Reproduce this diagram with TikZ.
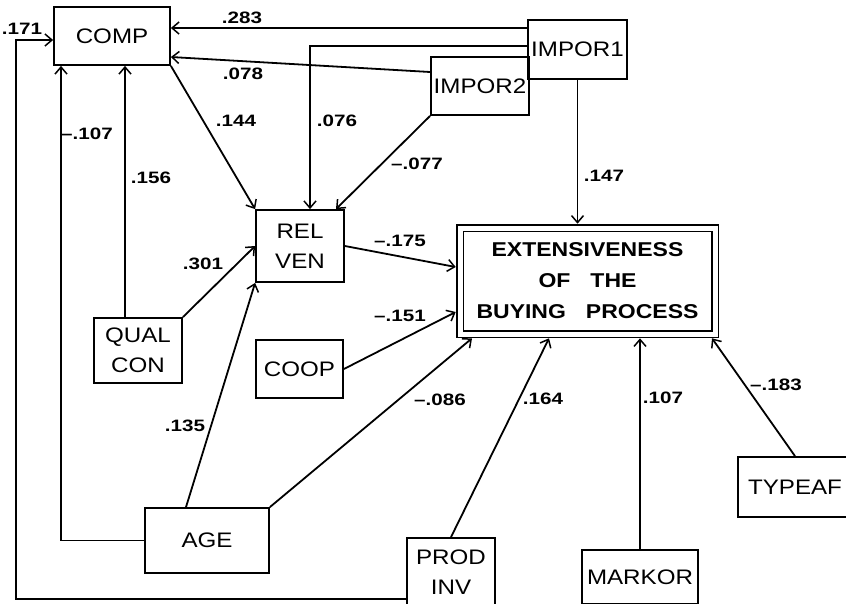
\documentclass[tikz,border=0pt]{standalone}
\usetikzlibrary{arrows.meta}
\usepackage{fontspec}
\setmainfont{Liberation Sans}
\newfontfamily\boxfont[FakeStretch=1.15]{Liberation Sans}
\newfontfamily\coeffont[FakeStretch=1.25]{Liberation Sans}

\begin{document}
\begin{tikzpicture}[
    x=1pt, y=-1pt,
    myarrow/.style={line width=1.8pt, -{Straight Barb[length=7pt, width=12pt, line width=1.5pt]}},
    varbox/.style={draw, line width=1.8pt, rectangle, inner sep=0pt, align=center,
        font={\boxfont\fontsize{21}{30}\selectfont}},
    coef/.style={inner sep=0pt, font={\coeffont\bfseries\fontsize{16.5}{16.5}\selectfont}}
]

    \path[use as bounding box, fill=white] (0,0) rectangle (846,603);
    \clip (0,0) rectangle (846,603);

    % ==========================================
    % 1. VARIABLES (boxes)
    % ==========================================

    \node[varbox, minimum width=116pt, minimum height=58pt] (comp) at (112, 36) {COMP};

    \node[varbox, minimum width=99pt, minimum height=59pt] (impor1) at (577.5, 49.5) {IMPOR1};

    \node[varbox, minimum width=98pt, minimum height=58pt] (impor2) at (480, 86) {IMPOR2};

    \node[varbox, minimum width=88pt, minimum height=72pt] (relven) at (300, 246) {REL\\VEN};

    \node[varbox, minimum width=88pt, minimum height=65pt] (qualcon) at (138, 350.5) {QUAL\\CON};

    \node[varbox, minimum width=87pt, minimum height=58pt] (coop) at (299.5, 369) {COOP};

    \node[varbox, minimum width=124pt, minimum height=65pt] (age) at (207, 540.5) {AGE};

    \node[varbox, minimum width=88pt, minimum height=68pt] (prodinv) at (451, 572) {PROD\\INV};

    \node[varbox, minimum width=116pt, minimum height=54pt] (markor) at (640, 577) {MARKOR};

    \node[varbox, minimum width=114pt, minimum height=60pt] (typeaf) at (795, 487) {TYPEAF};

    % main dependent variable, double frame
    \node[
        draw,
        double,
        line width=1.8pt,
        double distance=5pt,
        outer sep=4.3pt,
        minimum width=255pt,
        minimum height=106pt,
        inner sep=0pt,
        align=center,
        font={\boxfont\bfseries\fontsize{20}{31}\selectfont}
    ] (main) at (587.5, 281) {EXTENSIVENESS\\OF\quad THE\\BUYING\quad PROCESS};

    % ==========================================
    % 2. PATHS
    % ==========================================

    % --- into COMP ---
    \draw[myarrow] (impor1.west |- 0,28) -- (comp.east |- 0,28);
    \draw[myarrow] (impor2.west |- 0,72) -- (comp.east |- 0,57);
    \draw[myarrow] (qualcon.north -| 125,0) -- (comp.south -| 125,0);
    \draw[myarrow] (age.west) -| (comp.south -| 61,0);
    \draw[myarrow] (prodinv.west |- 0,599) -| (16,40) -- (comp.west |- 0,40);

    % --- into REL VEN ---
    \draw[myarrow] (comp.south east) -- (relven.north west);
    \draw[myarrow] (impor1.west |- 0,46) -| ([xshift=10pt]relven.north);
    \draw[myarrow] (impor2.south west) -- ([xshift=36pt]relven.north);
    \draw[myarrow] (qualcon.north east) -- (relven.west);
    \draw[myarrow] ([xshift=-21pt]age.north) -- (relven.south west);

    % --- into the main box ---
    \draw[myarrow] (impor1.south) -- (impor1.south |- main.north);
    \draw[myarrow] (relven.east) -- (main.west |- 0,267);
    \draw[myarrow] (coop.east) -- (main.west |- 0,312);
    \draw[myarrow] (age.north east) -- (main.south -| 472,0);
    \draw[myarrow] (prodinv.north) -- (main.south -| 549,0);
    \draw[myarrow] (markor.north) -- (markor.north |- main.south);
    \draw[myarrow] (typeaf.north) -- (main.south -| 712,0);

    % ==========================================
    % 3. COEFFICIENTS
    % ==========================================

    \node[coef] (l283) at (242, 18) {.283};
    \node[coef] (l078) at (243, 74) {.078};
    \node[coef] (l171) at (22, 29) {.171};
    \node[coef] (l144) at (236, 121) {.144};
    \node[coef] (l107a) at (87, 134) {–.107};
    \node[coef] (l156) at (151, 178) {.156};
    \node[coef] (l076) at (337, 121) {.076};
    \node[coef] (l077) at (417, 164) {–.077};
    \node[coef] (l147) at (604, 176) {.147};
    \node[coef] (l175) at (400, 241) {–.175};
    \node[coef] (l151) at (400, 316) {–.151};
    \node[coef] (l301) at (203, 264) {.301};
    \node[coef] (l135) at (185, 426) {.135};
    \node[coef] (l086) at (440, 400) {–.086};
    \node[coef] (l164) at (543, 399) {.164};
    \node[coef] (l107b) at (663, 398) {.107};
    \node[coef] (l183) at (776, 385) {–.183};

\end{tikzpicture}
\end{document}
